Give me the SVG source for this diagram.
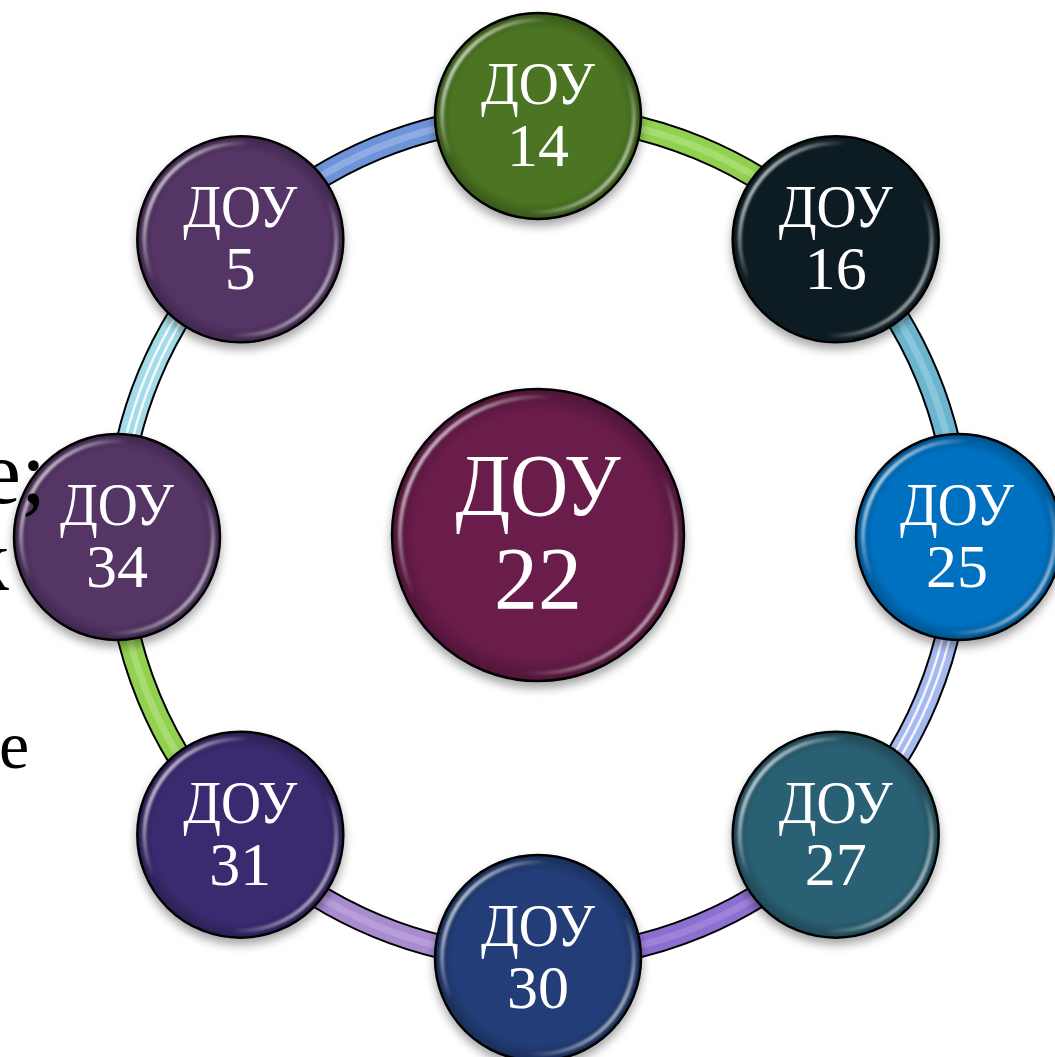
<svg xmlns="http://www.w3.org/2000/svg" width="1055" height="1057" viewBox="0 0 1055 1057">
<style>
.lbl{font-family:"Liberation Serif","Times New Roman",serif;fill:#ffffff;text-anchor:middle}
.s{font-size:62px}
.b{font-size:88px}
.frag{font-family:"Liberation Serif","Times New Roman",serif;fill:#000000}
.edge{stroke:#000000;stroke-width:2.5}
.rim{fill:none;stroke:url(#rim);stroke-width:4;filter:url(#blur)}
.out{fill:none;stroke:#000;stroke-width:25}
.band{fill:none;stroke-width:21}
.glow{fill:none;stroke-width:7;stroke-opacity:0.55}
.stripe{fill:none;stroke:#ffffff;stroke-width:2.5;stroke-opacity:0.85}
</style>
<defs>
<linearGradient id="rim" x1="0" y1="0.15" x2="1" y2="0.85">
<stop offset="0" stop-color="#fff" stop-opacity="0.95"/>
<stop offset="0.3" stop-color="#fff" stop-opacity="0"/>
<stop offset="0.7" stop-color="#fff" stop-opacity="0"/>
<stop offset="1" stop-color="#fff" stop-opacity="0.8"/>
</linearGradient>
<radialGradient id="shade" cx="0.5" cy="0.5" r="0.5">
<stop offset="0.85" stop-color="#000" stop-opacity="0"/>
<stop offset="1" stop-color="#000" stop-opacity="0.25"/>
</radialGradient>
<filter id="blur" x="-10%" y="-10%" width="120%" height="120%"><feGaussianBlur stdDeviation="1.2"/></filter>
<filter id="sh" x="-20%" y="-20%" width="140%" height="150%"><feDropShadow dx="0" dy="6" stdDeviation="5" flood-color="#000" flood-opacity="0.35"/></filter>
</defs>
<rect width="1055" height="1057" fill="#ffffff"/>
<g id="connectors">
<g id="c-5-14">
<path class="out" d="M240.31 239.31 A421 421 0 0 1 538 116"/>
<path class="band" stroke="#6f93d8" d="M240.31 239.31 A421 421 0 0 1 538 116"/>
<path class="glow" stroke="#a9c0ef" d="M240.31 239.31 A421 421 0 0 1 538 116"/>
</g>
<g id="c-14-16">
<path class="out" d="M538 116 A421 421 0 0 1 835.69 239.31"/>
<path class="band" stroke="#92d050" d="M538 116 A421 421 0 0 1 835.69 239.31"/>
<path class="glow" stroke="#b8e68a" d="M538 116 A421 421 0 0 1 835.69 239.31"/>
</g>
<g id="c-16-25">
<path class="out" d="M835.69 239.31 A421 421 0 0 1 959 537"/>
<path class="band" stroke="#6bb5cf" d="M835.69 239.31 A421 421 0 0 1 959 537"/>
<path class="glow" stroke="#a2d4e6" d="M835.69 239.31 A421 421 0 0 1 959 537"/>
</g>
<g id="c-25-27">
<path class="out" d="M959 537 A421 421 0 0 1 835.69 834.69"/>
<path class="band" stroke="#a6b9ef" d="M959 537 A421 421 0 0 1 835.69 834.69"/>
<path class="stripe" d="M955 537 A417 417 0 0 1 832.86 831.86"/>
<path class="stripe" d="M962 537 A424 424 0 0 1 837.81 836.81"/>
</g>
<g id="c-27-30">
<path class="out" d="M835.69 834.69 A421 421 0 0 1 538 958"/>
<path class="band" stroke="#8d6fd2" d="M835.69 834.69 A421 421 0 0 1 538 958"/>
<path class="glow" stroke="#a994e0" d="M835.69 834.69 A421 421 0 0 1 538 958"/>
</g>
<g id="c-30-31">
<path class="out" d="M538 958 A421 421 0 0 1 240.31 834.69"/>
<path class="band" stroke="#a98bd0" d="M538 958 A421 421 0 0 1 240.31 834.69"/>
<path class="glow" stroke="#c3aee0" d="M538 958 A421 421 0 0 1 240.31 834.69"/>
</g>
<g id="c-31-34">
<path class="out" d="M240.31 834.69 A421 421 0 0 1 117 537"/>
<path class="band" stroke="#92d050" d="M240.31 834.69 A421 421 0 0 1 117 537"/>
<path class="glow" stroke="#b8e68a" d="M240.31 834.69 A421 421 0 0 1 117 537"/>
</g>
<g id="c-34-5">
<path class="out" d="M117 537 A421 421 0 0 1 240.31 239.31"/>
<path class="band" stroke="#a3dbe8" d="M117 537 A421 421 0 0 1 240.31 239.31"/>
<path class="stripe" d="M121 537 A417 417 0 0 1 243.14 242.14"/>
<path class="stripe" d="M114 537 A424 424 0 0 1 238.19 237.19"/>
</g>
</g>
<g id="n22">
<circle class="edge" cx="538" cy="535" r="146" style="fill:#6b1d4b" filter="url(#sh)"/>
<circle cx="538" cy="535" r="145" fill="url(#shade)"/>
<circle class="rim" cx="538" cy="535" r="138"/>
<text class="lbl b" x="538" y="515" textLength="165" lengthAdjust="spacingAndGlyphs">ДОУ</text>
<text class="lbl b" x="538" y="608">22</text>
</g>
<g id="n14">
<circle class="edge" cx="538" cy="116" r="103" style="fill:#4b7420" filter="url(#sh)"/>
<circle cx="538" cy="116" r="102" fill="url(#shade)"/>
<circle class="rim" cx="538" cy="116" r="96"/>
<text class="lbl s" x="538" y="104" textLength="114" lengthAdjust="spacingAndGlyphs">ДОУ</text>
<text class="lbl s" x="538" y="166">14</text>
</g>
<g id="n16">
<circle class="edge" cx="835.69" cy="239.31" r="103" style="fill:#0f1d23" filter="url(#sh)"/>
<circle class="rim" cx="835.69" cy="239.31" r="96"/>
<text class="lbl s" x="835.69" y="227" textLength="114" lengthAdjust="spacingAndGlyphs">ДОУ</text>
<text class="lbl s" x="835.69" y="289">16</text>
</g>
<g id="n25">
<circle class="edge" cx="959" cy="537" r="103" style="fill:#0070c0" filter="url(#sh)"/>
<circle cx="959" cy="537" r="102" fill="url(#shade)"/>
<circle class="rim" cx="959" cy="537" r="96"/>
<text class="lbl s" x="957" y="525" textLength="114" lengthAdjust="spacingAndGlyphs">ДОУ</text>
<text class="lbl s" x="957" y="587">25</text>
</g>
<g id="n27">
<circle class="edge" cx="835.69" cy="834.69" r="103" style="fill:#2a6073" filter="url(#sh)"/>
<circle cx="835.69" cy="834.69" r="102" fill="url(#shade)"/>
<circle class="rim" cx="835.69" cy="834.69" r="96"/>
<text class="lbl s" x="835.69" y="823" textLength="114" lengthAdjust="spacingAndGlyphs">ДОУ</text>
<text class="lbl s" x="835.69" y="885">27</text>
</g>
<g id="n30">
<circle class="edge" cx="538" cy="958" r="103" style="fill:#243e77" filter="url(#sh)"/>
<circle cx="538" cy="958" r="102" fill="url(#shade)"/>
<circle class="rim" cx="538" cy="958" r="96"/>
<text class="lbl s" x="538" y="946" textLength="114" lengthAdjust="spacingAndGlyphs">ДОУ</text>
<text class="lbl s" x="538" y="1008">30</text>
</g>
<g id="n31">
<circle class="edge" cx="240.31" cy="834.69" r="103" style="fill:#3a2b70" filter="url(#sh)"/>
<circle cx="240.31" cy="834.69" r="102" fill="url(#shade)"/>
<circle class="rim" cx="240.31" cy="834.69" r="96"/>
<text class="lbl s" x="240.31" y="823" textLength="114" lengthAdjust="spacingAndGlyphs">ДОУ</text>
<text class="lbl s" x="240.31" y="885">31</text>
</g>
<g id="n34">
<circle class="edge" cx="117" cy="537" r="103" style="fill:#553566" filter="url(#sh)"/>
<circle cx="117" cy="537" r="102" fill="url(#shade)"/>
<circle class="rim" cx="117" cy="537" r="96"/>
<text class="lbl s" x="117" y="525" textLength="114" lengthAdjust="spacingAndGlyphs">ДОУ</text>
<text class="lbl s" x="117" y="587">34</text>
</g>
<g id="n5">
<circle class="edge" cx="240.31" cy="239.31" r="103" style="fill:#553566" filter="url(#sh)"/>
<circle cx="240.31" cy="239.31" r="102" fill="url(#shade)"/>
<circle class="rim" cx="240.31" cy="239.31" r="96"/>
<text class="lbl s" x="240.31" y="227" textLength="114" lengthAdjust="spacingAndGlyphs">ДОУ</text>
<text class="lbl s" x="240.31" y="289">5</text>
</g>
<g id="fragments">
<text class="frag" x="-19" y="503" font-size="90">е;</text>
<text class="frag" x="-34" y="590" font-size="88">к</text>
<text class="frag" x="-1" y="768" font-size="68">е</text>
</g>
</svg>
